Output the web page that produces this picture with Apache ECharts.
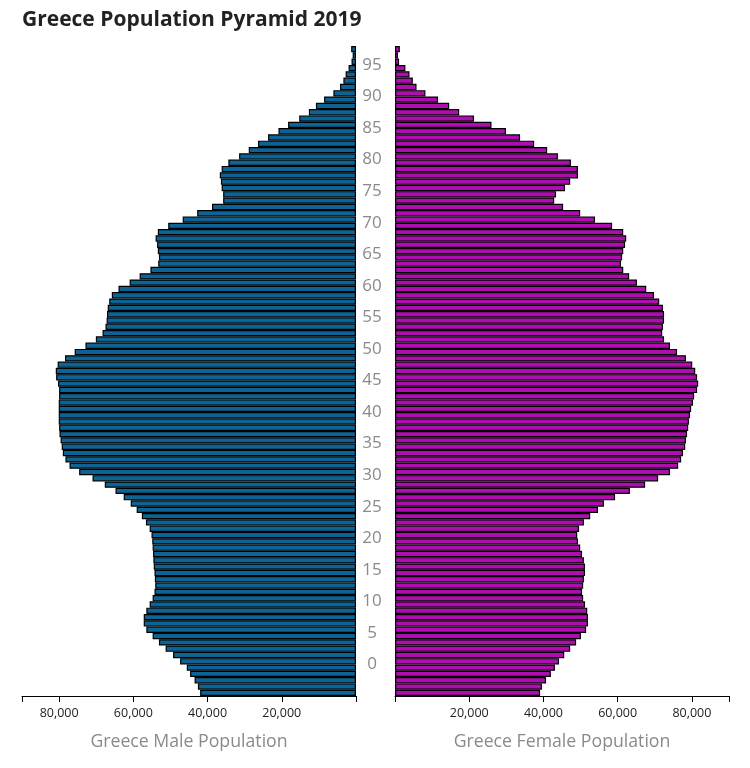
<!DOCTYPE html>
<html>
<head>
<meta charset="utf-8">
<script src="https://cdn.jsdelivr.net/npm/echarts@6/dist/echarts.min.js"></script>
<style>
html,body{margin:0;padding:0;background:#fff;}
#chart{width:750px;height:768px;}
</style>
</head>
<body>
<div id="chart"></div>
<script>
// Age categories (bottom to top)
const ages = ['0','1','2','3','4','5','6','7','8','9','10','11','12','13','14','15','16','17','18','19',
  '20','21','22','23','24','25','26','27','28','29','30','31','32','33','34','35','36','37','38','39',
  '40','41','42','43','44','45','46','47','48','49','50','51','52','53','54','55','56','57','58','59',
  '60','61','62','63','64','65','66','67','68','69','70','71','72','73','74','75','76','77','78','79',
  '80','81','82','83','84','85','86','87','88','89','90','91','92','93','94','95','96','97','98','99',
  '100','101','102'];

const malePopulation = [
  42000, 42600, 43500, 44700, 45600, 47400, 49300, 51300, 53100, 54800,
  56500, 57200, 57200, 56500, 55600, 54800, 54300, 54100, 54200, 54300,
  54500, 54600, 54700, 54800, 54900, 55100, 55600, 56600, 57700, 59100,
  60700, 62600, 64800, 67700, 71000, 74600, 77200, 78300, 79000, 79300,
  79600, 79900, 80000, 80100, 80100, 80100, 80100, 80000, 80000, 80300,
  80800, 80900, 80400, 78400, 75800, 72900, 70100, 68300, 67500, 67200,
  67100, 66900, 66500, 65800, 64000, 61000, 58300, 55400, 53300, 53100,
  53400, 53600, 54000, 53400, 50600, 46700, 42800, 38800, 35800, 35800,
  36200, 36400, 36700, 36200, 34400, 31500, 28900, 26400, 23700, 20900,
  18300, 15300, 12700, 10800, 8600, 6100, 4300, 3400, 2800, 2000,
  1200, 900, 1300
];

const femalePopulation = [
  39100, 39600, 40700, 42000, 43100, 44200, 45600, 47200, 48800, 50100,
  51500, 52000, 52000, 51800, 51200, 50700, 50400, 50700, 50900, 51200,
  51200, 50900, 50400, 49900, 49300, 49100, 49600, 50900, 52600, 54700,
  56300, 59300, 63300, 67400, 70900, 74100, 76300, 77100, 77600, 78200,
  78400, 78700, 79000, 79200, 79500, 79800, 80300, 80600, 81400, 81700,
  81400, 80900, 80100, 78400, 76000, 74100, 72500, 72000, 72200, 72500,
  72500, 72200, 71200, 69800, 67700, 65200, 63100, 61500, 60900, 61200,
  61500, 62000, 62300, 61500, 58500, 53900, 49900, 45300, 42900, 43400,
  45800, 47200, 49300, 49300, 47400, 43900, 41000, 37500, 33700, 29900,
  26000, 21300, 17300, 14600, 11600, 8200, 5800, 4800, 3900, 2800,
  1100, 800, 1300
];

// Tick labels
const ageTickLabels = [0, 5, 10, 15, 20, 25, 30, 35, 40, 45, 50, 55, 60, 65, 70, 75, 80, 85, 90, 95];
const populationTickLabels = [20000, 40000, 60000, 80000];

const FONT = 'Open Sans';
const chart = echarts.init(document.getElementById('chart'), null, {renderer: 'canvas'});

function popFmt(v) {
  return populationTickLabels.indexOf(v) >= 0 ? v.toLocaleString('en-US') : '';
}

const xCommon = {
  type: 'value',
  min: 0,
  max: 90000,
  interval: 20000,
  nameLocation: 'middle',
  nameGap: 37,
  nameTextStyle: {fontFamily: FONT, fontSize: 17.7, color: '#8a8a8a'},
  axisLine: {show: true, onZero: false, lineStyle: {color: '#000', width: 1}},
  axisTick: {show: true, length: 6, lineStyle: {color: '#000'}},
  axisLabel: {fontFamily: FONT, fontSize: 12.5, color: '#222', margin: 11, formatter: popFmt},
  splitLine: {show: false}
};

chart.setOption({
  animation: false,
  backgroundColor: '#fff',
  title: {
    text: 'Greece Population Pyramid 2019',
    left: 17,
    top: 5,
    textStyle: {fontFamily: FONT, fontSize: 21, fontWeight: 'bold', color: '#222'}
  },
  grid: [
    {left: 22, width: 334, top: 46, height: 650},
    {left: 395, width: 334, top: 46, height: 650}
  ],
  xAxis: [
    Object.assign({}, xCommon, {gridIndex: 0, inverse: true, name: 'Greece Male Population'}),
    Object.assign({}, xCommon, {gridIndex: 1, name: 'Greece Female Population'})
  ],
  yAxis: [
    {type: 'category', gridIndex: 0, data: ages, show: false},
    {type: 'category', gridIndex: 1, data: ages, show: false},
    {
      type: 'value', gridIndex: 0, position: 'right',
      min: -5, max: 98, interval: 5,
      axisLine: {show: false}, axisTick: {show: false}, splitLine: {show: false},
      axisLabel: {
        fontFamily: FONT, fontSize: 17, color: '#8a8a8a', align: 'center', margin: 16,
        formatter: function (v) { return ageTickLabels.indexOf(v) >= 0 ? String(v) : ''; }
      }
    }
  ],
  series: [
    {
      type: 'bar', name: 'Male', xAxisIndex: 0, yAxisIndex: 0,
      data: malePopulation, barCategoryGap: 0,
      itemStyle: {color: '#0b6396', borderColor: '#000', borderWidth: 1.2}
    },
    {
      type: 'bar', name: 'Female', xAxisIndex: 1, yAxisIndex: 1,
      data: femalePopulation, barCategoryGap: 0,
      itemStyle: {color: '#b00db1', borderColor: '#000', borderWidth: 1.2}
    }
  ]
});
</script>
</body>
</html>
